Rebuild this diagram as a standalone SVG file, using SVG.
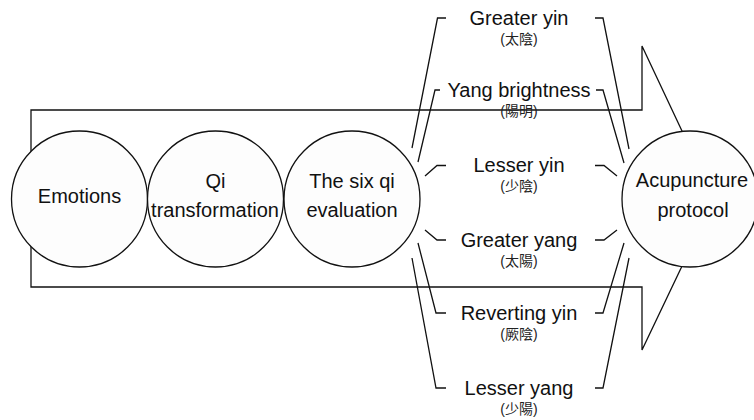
<svg xmlns="http://www.w3.org/2000/svg" width="754" height="420" viewBox="0 0 754 420">
<style>
.ln{fill:none;stroke:#111;stroke-width:1.3;stroke-linejoin:miter}
.c{fill:#fdfdfd;stroke:#111;stroke-width:1.3}
.t{font-family:"Liberation Sans",Arial,sans-serif;font-size:20px;fill:#111;text-anchor:middle}
.s{font-family:"Liberation Sans","Noto Sans CJK TC",sans-serif;font-size:14px;fill:#222;text-anchor:middle}
</style>
<rect width="754" height="420" fill="#fff"/>
<g id="big-arrow">
<polygon class="ln" fill="#fff" points="31,110 642,110 642,46 714,199 642,350 642,287 31,287"/>
</g>
<g id="connectors">
<polyline class="ln" points="446,18 437.5,18 412,148"/>
<polyline class="ln" points="440,90 435,90 418,162"/>
<polyline class="ln" points="446,165.5 437,165.5 425,176"/>
<polyline class="ln" points="446,240 437,240 425,230"/>
<polyline class="ln" points="446,313 436,313 418,243"/>
<polyline class="ln" points="446,388 436,388 412,258"/>
<polyline class="ln" points="595,18 603,18 629,149"/>
<polyline class="ln" points="596,90 603,90 624,163"/>
<polyline class="ln" points="595,165.5 604,165.5 617,176"/>
<polyline class="ln" points="595,240 604,240 617,230"/>
<polyline class="ln" points="595,313 603,313 624,243"/>
<polyline class="ln" points="595,388 603,388 629,258"/>
</g>
<g id="emotions">
<circle class="c" cx="79.5" cy="199" r="68"/>
<text class="t" x="79.5" y="203">Emotions</text>
</g>
<g id="qi-transformation">
<circle class="c" cx="215.5" cy="199" r="68"/>
<text class="t" x="215.5" y="188">Qi</text>
<text class="t" x="215" y="217">transformation</text>
</g>
<g id="six-qi">
<circle class="c" cx="352" cy="199" r="68"/>
<text class="t" x="352" y="188">The six qi</text>
<text class="t" x="352" y="217">evaluation</text>
</g>
<g id="acupuncture">
<circle class="c" cx="690" cy="199" r="68"/>
<text class="t" x="692" y="187">Acupuncture</text>
<text class="t" x="693" y="217">protocol</text>
</g>
<g id="greater-yin">
<text class="t" x="519" y="24.5">Greater yin</text>
<text class="s" x="519" y="43.5">(太陰)</text>
</g>
<g id="yang-brightness">
<text class="t" x="519" y="97">Yang brightness</text>
<text class="s" x="519" y="116">(陽明)</text>
</g>
<g id="lesser-yin">
<text class="t" x="519" y="172">Lesser yin</text>
<text class="s" x="519" y="191">(少陰)</text>
</g>
<g id="greater-yang">
<text class="t" x="519" y="246.5">Greater yang</text>
<text class="s" x="519" y="265.5">(太陽)</text>
</g>
<g id="reverting-yin">
<text class="t" x="519" y="319.5">Reverting yin</text>
<text class="s" x="519" y="338.5">(厥陰)</text>
</g>
<g id="lesser-yang">
<text class="t" x="519" y="394.5">Lesser yang</text>
<text class="s" x="519" y="413.5">(少陽)</text>
</g>
</svg>
